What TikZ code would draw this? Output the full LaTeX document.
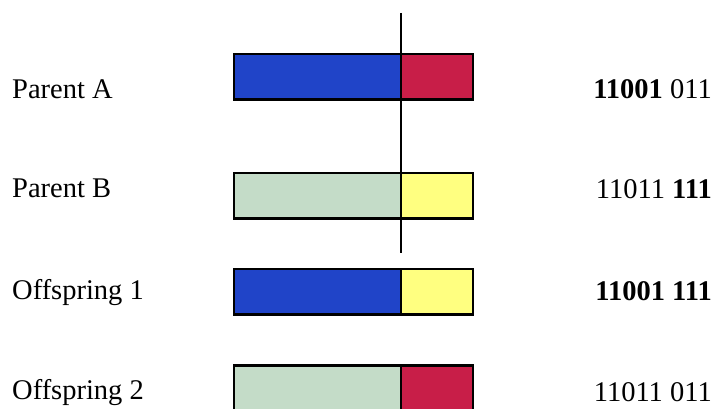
\documentclass[tikz,border=0pt]{standalone}
\usepackage{fontspec}
\setmainfont{Liberation Serif}
\definecolor{genblue}{RGB}{32,68,200}
\definecolor{genred}{RGB}{200,30,72}
\definecolor{gengreen}{RGB}{196,220,200}
\definecolor{genyellow}{RGB}{255,255,128}
\begin{document}
\begin{tikzpicture}[x=1pt,y=1pt,
  seg/.style={draw=black, line width=2.5pt, rectangle, inner sep=0pt, outer sep=0pt, minimum height=45.5pt},
  lseg/.style={seg, minimum width=167pt},
  rseg/.style={seg, minimum width=72pt},
  lbl/.style={inner sep=0pt, anchor=base west, font=\fontsize{28.5}{30}\selectfont},
  code/.style={inner sep=0pt, anchor=base east, font=\fontsize{28.5}{30}\selectfont},
  cutline/.style={line width=2.5pt}]
\useasboundingbox (0,0) rectangle (715,409);
\fill[white] (0,0) rectangle (715,409);
% Parent A
\node[lseg, fill=genblue, anchor=east] (aL) at (401,332) {};
\node[rseg, fill=genred, anchor=west] (aR) at (401,332) {};
% Parent B
\node[lseg, fill=gengreen, anchor=east] (bL) at (401,213) {};
\node[rseg, fill=genyellow, anchor=west] (bR) at (401,213) {};
% Offspring 1
\node[lseg, fill=genblue, anchor=east] (cL) at (401,117) {};
\node[rseg, fill=genyellow, anchor=west] (cR) at (401,117) {};
% Offspring 2 (cut off at the bottom edge)
\node[lseg, fill=gengreen, anchor=east] (dL) at (401,20.5) {};
\node[rseg, fill=genred, anchor=west] (dR) at (401,20.5) {};
% cut line
\coordinate (cutTop) at (401,396);
\coordinate (cutBot) at (401,156);
\draw[cutline] (cutTop) -- (cutBot);
% labels
\node[lbl] (tA) at (12,310) {Parent A};
\node[lbl] (tB) at (12,211) {Parent B};
\node[lbl] (tC) at (12,109) {Offspring 1};
\node[lbl] (tD) at (12,9) {Offspring 2};
\node[code] (sA) at (712,310) {\textbf{11001} 011};
\node[code] (sB) at (712,210) {11011 \textbf{111}};
\node[code] (sC) at (712,108) {\textbf{11001 111}};
\node[code] (sD) at (712,7) {11011 011};
\end{tikzpicture}
\end{document}
